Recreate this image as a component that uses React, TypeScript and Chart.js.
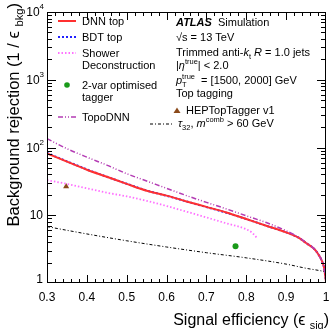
import React, { useEffect, useRef } from "react";
import { Chart, registerables } from "chart.js";
Chart.register(...registerables);

const FONT = "'Liberation Sans', Arial, Helvetica, sans-serif";

const effDNN = [0.30, 0.35, 0.40, 0.45, 0.50, 0.55, 0.60, 0.65, 0.70, 0.75, 0.80, 0.85, 0.90, 0.93, 0.95, 0.97, 0.98, 0.99, 0.995, 1.0];
const rejDNN = [82, 62, 47, 37, 29, 23, 19.5, 16, 13.3, 11, 8.8, 7.0, 5.6, 4.7, 3.9, 3.2, 2.7, 2.1, 1.7, 1.05];
const rejBDT = [83, 62.5, 47.5, 37, 29.2, 23.2, 19.4, 16, 13.2, 10.9, 8.8, 7.0, 5.6, 4.7, 3.9, 3.2, 2.7, 2.1, 1.7, 1.05];
const effTopo = [0.30, 0.35, 0.40, 0.45, 0.50, 0.55, 0.60, 0.65, 0.70, 0.75, 0.80, 0.85, 0.90, 0.93, 0.95, 0.97, 0.98, 0.99, 0.995, 1.0];
const rejTopo = [135, 96, 72, 55, 41, 32, 25, 19.5, 15.5, 12.4, 9.8, 7.8, 5.9, 4.8, 3.95, 3.2, 2.7, 2.1, 1.7, 1.05];
const effSD = [0.30, 0.35, 0.40, 0.45, 0.50, 0.55, 0.60, 0.65, 0.70, 0.75, 0.80, 0.815, 0.826];
const rejSD = [33, 29, 25, 21.5, 19, 16.3, 13.7, 11.3, 9.3, 7.6, 6.2, 5.5, 4.7];
const effTau = [0.30, 0.40, 0.50, 0.60, 0.70, 0.80, 0.90, 0.95, 0.99, 1.0];
const rejTau = [6.8, 5.3, 4.2, 3.4, 2.8, 2.35, 1.9, 1.65, 1.5, 1.45];
const eff2var = [0.773];
const rej2var = [3.5];
const effHEP = [0.348];
const rejHEP = [26.5];

const xTickLabels = [0.3, 0.4, 0.5, 0.6, 0.7, 0.8, 0.9, 1.0];
const yTickValues = [1, 10, 100, 1000, 10000];

type Seg = { t: string; st?: string; pos?: "base" | "sup" | "sub" | "stack"; sup?: string; sub?: string };

function font(size: number, st = "normal") {
  return `${st} ${size}px ${FONT}`;
}

function drawRich(ctx: CanvasRenderingContext2D, segs: Seg[], x: number, y: number, size: number, draw = true): number {
  let cx = x;
  const small = size * 0.68;
  for (const s of segs) {
    const pos = s.pos || "base";
    if (pos === "stack") {
      ctx.font = font(small, s.st || "normal");
      const w1 = ctx.measureText(s.sup || "").width;
      const w2 = ctx.measureText(s.sub || "").width;
      if (draw) {
        ctx.fillText(s.sup || "", cx, y - size * 0.42);
        ctx.fillText(s.sub || "", cx, y + size * 0.25);
      }
      cx += Math.max(w1, w2);
      continue;
    }
    const sz = pos === "base" ? size : small;
    ctx.font = font(sz, s.st || "normal");
    const dy = pos === "sup" ? -size * 0.42 : pos === "sub" ? size * 0.25 : 0;
    if (draw) ctx.fillText(s.t, cx, y + dy);
    cx += ctx.measureText(s.t).width;
  }
  return cx - x;
}

const pts = (xs: number[], ys: number[]) => xs.map((x, i) => ({ x, y: ys[i] }));

const decorPlugin = {
  id: "decor",
  afterDraw(chart: any) {
    const ctx: CanvasRenderingContext2D = chart.ctx;
    const { left, right, top, bottom } = chart.chartArea;
    const xs = chart.scales.x;
    const ys = chart.scales.y;
    const L = Math.round(left), R = Math.round(right), T = Math.round(top), B = Math.round(bottom);
    ctx.save();
    ctx.fillStyle = "#000";
    ctx.globalAlpha = 1;
    // frame
    ctx.fillRect(L, T, R - L, 1);
    ctx.fillRect(L, B - 1, R - L, 1);
    ctx.fillRect(L, T, 1, B - T);
    ctx.fillRect(R - 1, T, 1, B - T);
    // x ticks: minor every 0.02, major every 0.1
    for (let i = 15; i <= 50; i++) {
      const px = Math.min(Math.round(xs.getPixelForValue(i / 50)), R - 1);
      const len = i % 5 === 0 ? 8 : 4;
      ctx.fillRect(px, B - len, 1, len);
      ctx.fillRect(px, T, 1, len);
    }
    // y ticks: major at decades, minor at 2..9
    for (let d = 0; d < 4; d++) {
      for (let m = 1; m <= 9; m++) {
        const py = Math.min(Math.round(ys.getPixelForValue(Math.pow(10, d) * m)), B - 1);
        const len = m === 1 ? 9 : 5;
        ctx.fillRect(L, py, len, 1);
        ctx.fillRect(R - len, py, len, 1);
      }
    }

    // y tick labels
    ctx.textBaseline = "middle";
    ctx.textAlign = "left";
    for (const v of yTickValues) {
      const py = ys.getPixelForValue(v);
      const e = Math.round(Math.log10(v));
      if (e <= 1) {
        ctx.font = font(12);
        const t = e === 0 ? "1" : "10";
        const w = ctx.measureText(t).width;
        ctx.fillText(t, left - 4 - w, e === 0 ? py - 3 : py);
      } else {
        ctx.font = font(8);
        const we = ctx.measureText(String(e)).width;
        ctx.font = font(12);
        const wb = ctx.measureText("10").width;
        const x0 = left - 3 - we - wb;
        ctx.fillText("10", x0, py + 1);
        ctx.font = font(8);
        ctx.fillText(String(e), x0 + wb, py - 5);
      }
    }

    // axis titles
    ctx.textBaseline = "alphabetic";
    ctx.textAlign = "left";
    const xt: Seg[] = [{ t: "Signal efficiency (\u03F5 " }, { t: "sig", pos: "sub" }, { t: ")" }];
    const wx = drawRich(ctx, xt, 0, 0, 16, false);
    drawRich(ctx, xt, 329 - wx, 325, 16);

    const yt: Seg[] = [{ t: "Background rejection (1 / \u03F5 " }, { t: "bkg", pos: "sub" }, { t: ")" }];
    const wy = drawRich(ctx, yt, 0, 0, 16.5, false);
    ctx.save();
    ctx.translate(19, 3);
    ctx.rotate(-Math.PI / 2);
    drawRich(ctx, yt, -wy, 0, 16.5);
    ctx.restore();

    // legend (left)
    const fs = 11;
    const lx0 = 58, lx1 = 76, tx = 82;
    const legendLine = (y: number, color: string, dash: number[], w: number) => {
      ctx.save();
      ctx.strokeStyle = color;
      ctx.lineWidth = w;
      ctx.setLineDash(dash);
      ctx.beginPath();
      ctx.moveTo(lx0, y);
      ctx.lineTo(lx1, y);
      ctx.stroke();
      ctx.restore();
    };
    ctx.fillStyle = "#000";
    legendLine(21, "#ff3030", [], 2);
    drawRich(ctx, [{ t: "DNN top" }], tx, 25, fs);
    legendLine(37, "#2020ff", [2, 2], 2);
    drawRich(ctx, [{ t: "BDT top" }], tx, 41, fs);
    legendLine(53, "#ff70ff", [1.5, 2], 1.8);
    drawRich(ctx, [{ t: "Shower" }], tx, 57, fs);
    drawRich(ctx, [{ t: "Deconstruction" }], tx, 69, fs);
    ctx.fillStyle = "#1a9a1a";
    ctx.beginPath();
    ctx.arc(67, 85, 2.8, 0, Math.PI * 2);
    ctx.fill();
    ctx.fillStyle = "#000";
    drawRich(ctx, [{ t: "2-var optimised" }], tx, 89, fs);
    drawRich(ctx, [{ t: "tagger" }], tx, 101, fs);
    legendLine(117, "#b43cb4", [5, 2, 1, 2, 1, 2], 1.5);
    drawRich(ctx, [{ t: "TopoDNN" }], tx, 121, fs);

    // right text block
    const rx = 176;
    drawRich(ctx, [{ t: "ATLAS", st: "italic bold" }, { t: "  Simulation" }], rx, 26, fs);
    drawRich(ctx, [{ t: "\u221As = 13 TeV" }], rx, 41, fs);
    drawRich(ctx, [{ t: "Trimmed anti-" }, { t: "k", st: "italic" }, { t: "t", pos: "sub" }, { t: " " }, { t: "R", st: "italic" }, { t: " = 1.0 jets" }], rx, 56, fs);
    drawRich(ctx, [{ t: "|" }, { t: "\u03B7", st: "italic" }, { t: "true", pos: "sup" }, { t: "| < 2.0" }], rx, 69, fs);
    drawRich(ctx, [{ t: "p", st: "italic" }, { t: "", pos: "stack", sup: "true", sub: "T" }, { t: "  = [1500, 2000] GeV" }], rx, 84, fs);
    drawRich(ctx, [{ t: "Top tagging" }], rx, 97, fs);
    ctx.fillStyle = "#8b4a1a";
    ctx.beginPath();
    ctx.moveTo(177, 107.5);
    ctx.lineTo(180.5, 113);
    ctx.lineTo(173.5, 113);
    ctx.closePath();
    ctx.fill();
    ctx.fillStyle = "#000";
    drawRich(ctx, [{ t: "HEPTopTagger v1" }], 186, 114, fs);
    ctx.save();
    ctx.strokeStyle = "#000";
    ctx.lineWidth = 1;
    ctx.setLineDash([3, 2, 1, 2]);
    ctx.beginPath();
    ctx.moveTo(150, 124);
    ctx.lineTo(172, 124);
    ctx.stroke();
    ctx.restore();
    drawRich(ctx, [{ t: "\u03C4", st: "italic" }, { t: "32", pos: "sub" }, { t: ", " }, { t: "m", st: "italic" }, { t: "comb", pos: "sup" }, { t: " > 60 GeV" }], 178, 127, fs);
    ctx.restore();
  },
};

export default function App() {
  const ref = useRef<HTMLCanvasElement>(null);
  useEffect(() => {
    document.body.style.margin = "0";
    const canvas = ref.current!;
    const line = (label: string, xs: number[], ysv: number[], color: string, dash: number[], w: number) => ({
      label,
      data: pts(xs, ysv),
      borderColor: color,
      backgroundColor: color,
      borderDash: dash,
      borderWidth: w,
      pointRadius: 0,
      fill: false,
      cubicInterpolationMode: "monotone" as const,
    });
    const chart = new Chart(canvas, {
      type: "line",
      data: {
        datasets: [
          line("TopoDNN", effTopo, rejTopo, "#b43cb4", [5, 2, 1, 2, 1, 2], 1.5),
          line("Shower Deconstruction", effSD, rejSD, "#ff70ff", [1.5, 2], 1.8),
          line("tau32", effTau, rejTau, "#000000", [3, 2, 1, 2], 1),
          line("DNN top", effDNN, rejDNN, "#ff3030", [], 2),
          line("BDT top", effDNN, rejBDT, "#2020ff", [2, 2], 2),
          {
            label: "2-var optimised tagger",
            data: pts(eff2var, rej2var),
            showLine: false,
            pointRadius: 3,
            pointStyle: "circle",
            backgroundColor: "#1a9a1a",
            borderColor: "#1a9a1a",
            borderWidth: 0,
          } as any,
          {
            label: "HEPTopTagger v1",
            data: pts(effHEP, rejHEP),
            showLine: false,
            pointRadius: 3.5,
            pointStyle: "triangle",
            backgroundColor: "#8b4a1a",
            borderColor: "#8b4a1a",
            borderWidth: 0,
          } as any,
        ],
      },
      options: {
        animation: false,
        responsive: false,
        devicePixelRatio: 1,
        layout: { padding: { top: 12, right: 3, left: 0, bottom: 0 } },
        plugins: { legend: { display: false }, tooltip: { enabled: false } },
        scales: {
          x: {
            type: "linear",
            min: 0.3,
            max: 1.0,
            grid: { display: false, drawTicks: false },
            border: { display: false },
            ticks: {
              stepSize: 0.1,
              padding: 7,
              autoSkip: false,
              maxRotation: 0,
              color: "#000",
              font: { family: FONT, size: 12 },
              callback: (v: any) => {
                const n = Number(Number(v).toFixed(1));
                if (!xTickLabels.some((t) => Math.abs(t - n) < 1e-6)) return "";
                return n === 1 ? "1" : n.toFixed(1);
              },
            },
            afterFit: (s: any) => {
              s.height = 46;
              s.paddingLeft = 0;
              s.paddingRight = 0;
            },
          },
          y: {
            type: "logarithmic",
            min: 1,
            max: 10000,
            grid: { display: false, drawTicks: false },
            border: { display: false },
            ticks: { display: false },
            afterFit: (s: any) => {
              s.width = 47;
              s.paddingTop = 0;
              s.paddingBottom = 0;
            },
          },
        },
      },
      plugins: [decorPlugin],
    });
    return () => chart.destroy();
  }, []);
  return (
    <div style={{ position: "absolute", left: 0, top: 0, width: 330, height: 329 }}>
      <canvas ref={ref} width={330} height={329} style={{ display: "block" }} />
    </div>
  );
}
